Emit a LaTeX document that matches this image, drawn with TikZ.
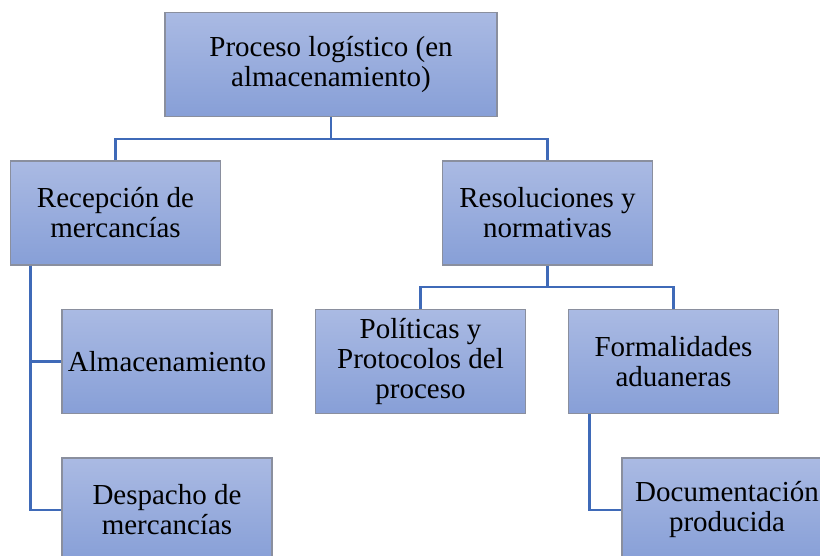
\documentclass[tikz,border=0pt]{standalone}
\usepackage{fontspec}
\setmainfont{Liberation Serif}
\definecolor{boxtop}{HTML}{AABAE3}
\definecolor{boxbot}{HTML}{879FD7}
\definecolor{boxline}{HTML}{8A8F9E}
\definecolor{linkblue}{HTML}{3F6AB8}
\def\bw{210pt}
\def\bh{104pt}
\tikzset{tarea/.style={minimum width=\bw,minimum height=\bh,inner sep=2pt,align=center,
    top color=boxtop,bottom color=boxbot,draw=boxline,line width=1.5pt,
    font=\fontsize{29}{30}\selectfont},
  enlace/.style={draw=linkblue,line width=2.8pt}}

\begin{document}
\begin{tikzpicture}[x=1pt,y=-1pt]
  \useasboundingbox (0,0) rectangle (820,556);
  \clip (0,0) rectangle (820,556);
  \node[tarea,minimum width=332pt] (proceso) at (331,64.5) {Proceso logístico (en\\almacenamiento)};
  \node[tarea] (recepcion) at (115.5,213) {Recepción de\\mercancías};
  \node[tarea] (resol) at (547.5,213) {Resoluciones y\\normativas};
  \node[tarea] (almac) at (167,361.5) {Almacenamiento};
  \node[tarea] (despacho) at (167,510) {Despacho de\\mercancías};
  \node[tarea] (politicas) at (420.5,361.5) {Políticas y\\Protocolos del\\proceso};
  \node[tarea] (formal) at (673.5,361.5) {Formalidades\\aduaneras};
  \node[tarea] (docum) at (727,510) {Documentación\\producida};
  % conectores
  \coordinate (bus1) at (331,139);
  \coordinate (bus2) at (547.5,287);
  \draw[enlace] (proceso.south) -- (bus1);
  \draw[enlace] (recepcion.north) |- (bus1) -| (resol.north);
  \draw[enlace] (resol.south) -- (bus2);
  \draw[enlace] (politicas.north) |- (bus2) -| (formal.north);
  \draw[enlace] ([xshift=21pt]recepcion.south west) |- (almac.west);
  \draw[enlace] ([xshift=21pt]recepcion.south west) |- (despacho.west);
  \draw[enlace] ([xshift=22pt]formal.south west) |- (docum.west);
\end{tikzpicture}
\end{document}
